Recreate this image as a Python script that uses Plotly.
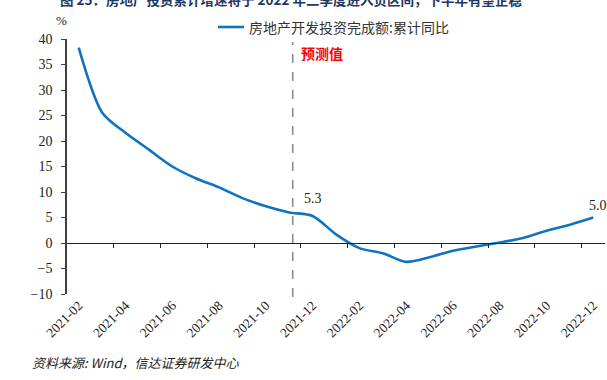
import plotly.graph_objects as go

months = ["2021-02", "2021-03", "2021-04", "2021-05", "2021-06", "2021-07", "2021-08",
          "2021-09", "2021-10", "2021-11", "2021-12", "2022-01", "2022-02", "2022-03",
          "2022-04", "2022-05", "2022-06", "2022-07", "2022-08", "2022-09", "2022-10",
          "2022-11", "2022-12"]
values = [38.3, 25.6, 21.6, 18.3, 15.0, 12.7, 10.9, 8.8, 7.2, 6.0, 5.3, 1.7, -1.0, -2.0,
          -3.7, -2.8, -1.5, -0.7, 0.1, 1.0, 2.4, 3.6, 5.0]
series_name = "房地产开发投资完成额:累计同比"
label_idx = [10, 22]
forecast_pos = 9.15
ytick_vals = [-10, -5, 0, 5, 10, 15, 20, 25, 30, 35, 40]

x_idx = list(range(len(months)))
tick_idx = x_idx[::2]
tick_text = [months[i] for i in tick_idx]
boundary_ticks = [i + 0.5 for i in x_idx[1:-1:2]]

serif = "Liberation Serif"
cjk = "Noto Sans CJK SC"
line_color = "#0F73C0"

# plot-area geometry in pixels (for paper-coordinate placement of decorations)
L, R, T, B = 67, 2, 39, 86
PW, PH = 607 - L - R, 380 - T - B


def px(x):
    return (x - L) / PW


def py(y):
    return (380 - B - y) / PH


fig = go.Figure()
fig.add_trace(go.Scatter(
    x=x_idx, y=values, mode="lines", name=series_name,
    line=dict(color=line_color, width=2.6, shape="spline", smoothing=0.8),
    hoverinfo="skip", showlegend=False,
))
# carrier trace so that the zero-crossing category axis is drawn
fig.add_trace(go.Scatter(x=[None], y=[None], xaxis="x2", yaxis="y",
                         showlegend=False, hoverinfo="skip"))

xr = [-0.5, len(months) - 0.5]
fig.update_layout(
    width=607, height=380,
    margin=dict(l=L, r=R, t=T, b=B, autoexpand=False),
    paper_bgcolor="white", plot_bgcolor="white",
    showlegend=False,
    xaxis=dict(range=xr, tickmode="array", tickvals=tick_idx, ticktext=tick_text,
               tickangle=-45, showline=False, showgrid=False, zeroline=False,
               ticks="", tickfont=dict(family=serif, size=13.5, color="#222222")),
    xaxis2=dict(overlaying="x", anchor="free", position=0.2, range=xr,
                tickmode="array", tickvals=boundary_ticks, ticks="outside",
                ticklen=4, tickwidth=1.2, tickcolor="#222222",
                showticklabels=False, showline=True, linecolor="#222222",
                linewidth=1.3, showgrid=False, zeroline=False, side="bottom"),
    yaxis=dict(range=[-10, 40], tickmode="array", tickvals=ytick_vals,
               showline=True, linecolor="#404040", linewidth=1.6,
               ticks="outside", ticklen=4, tickwidth=1.2, tickcolor="#404040",
               showgrid=False, zeroline=False, ticklabelstandoff=6,
               tickfont=dict(family=serif, size=14, color="#222222")),
)

# legend (drawn by hand so it does not push the plot area)
fig.add_shape(type="line", xref="paper", yref="paper", x0=px(218), x1=px(244),
              y0=py(27), y1=py(27), line=dict(color=line_color, width=2.6))
fig.add_annotation(xref="paper", yref="paper", x=px(247), y=py(27), text=series_name,
                   xanchor="left", yanchor="middle", showarrow=False,
                   font=dict(family=cjk, size=14, color="#333333"))

# forecast divider
fig.add_shape(type="line", xref="x", yref="paper", x0=forecast_pos, x1=forecast_pos,
              y0=py(297), y1=py(42), line=dict(color="#8C8C8C", width=1.6, dash="dash"))
fig.add_annotation(xref="x", yref="paper", x=forecast_pos, y=py(53), text="<b>预测值</b>",
                   showarrow=False, xanchor="left", yanchor="middle", xshift=6,
                   font=dict(family=cjk, size=14, color="#FF0000"))

# data labels
for i, ys, xs in zip(label_idx, [17, 12], [0, 5]):
    fig.add_annotation(xref="x", yref="y", x=x_idx[i], y=values[i],
                       text=f"{values[i]:.1f}", showarrow=False, yshift=ys, xshift=xs,
                       xanchor="center", yanchor="middle",
                       font=dict(family=serif, size=14, color="#222222"))

# unit
fig.add_annotation(xref="paper", yref="paper", x=px(61), y=py(20),
                   xanchor="center", yanchor="middle",
                   text="%", showarrow=False,
                   font=dict(family=serif, size=13, color="#222222"))

# cropped caption at the top
fig.add_annotation(xref="paper", yref="paper", x=px(58), y=py(-1),
                   xanchor="left", yanchor="middle", showarrow=False,
                   text="<b>图 25：房地产投资累计增速将于 2022 年二季度进入负区间，下半年有望企稳</b>",
                   font=dict(family=cjk, size=13.5, color="#1F3864"))

# source
fig.add_annotation(xref="paper", yref="paper", x=px(30), y=py(362),
                   xanchor="left", yanchor="middle", showarrow=False,
                   text="<i>资料来源: Wind，信达证券研发中心</i>",
                   font=dict(family=cjk, size=13, color="#222222"))

fig.write_html("out.html", config={"displayModeBar": False},
               post_script="document.body.style.margin='0';document.body.style.overflow='hidden';")
